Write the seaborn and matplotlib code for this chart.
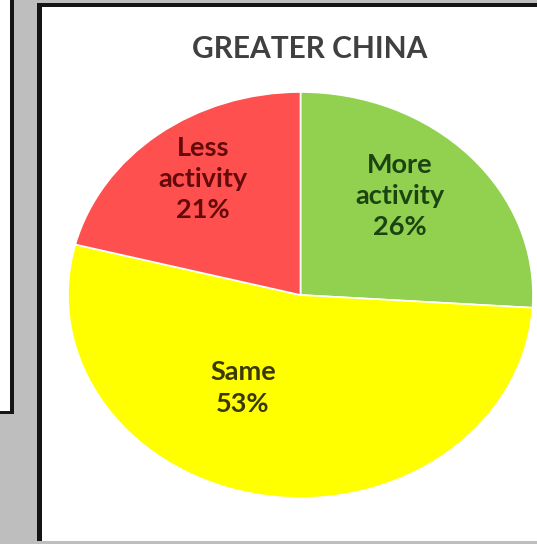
import matplotlib
matplotlib.use("Agg")
import matplotlib.pyplot as plt
from matplotlib.patches import Rectangle
import seaborn as sns

# Survey result for one region
title = "GREATER CHINA"
categories = ["More\nactivity", "Same", "Less\nactivity"]
shares = [26, 53, 21]
slice_colors = ["#92D050", "#FFFF00", "#FF5050"]
label_colors = ["#1B4410", "#3A3A00", "#640A0A"]

sns.set_theme(style="white")
plt.rcParams["font.family"] = ["Lato", "DejaVu Sans"]

W, H = 537, 544
fig = plt.figure(figsize=(W / 100, H / 100), dpi=100)
fig.patch.set_facecolor("#BEBEBE")


def px_rect(x0, y0, x1, y1, **kw):
    """Rectangle given in pixel coordinates measured from the top-left corner."""
    fig.patches.append(Rectangle((x0 / W, 1 - y1 / H), (x1 - x0) / W, (y1 - y0) / H,
                                 transform=fig.transFigure, figure=fig, zorder=-5, **kw))


# neighbouring panel on the left (only its edge is visible)
px_rect(0, 0, 10, 411, facecolor="white", edgecolor="none")
px_rect(10, 0, 14, 414, facecolor="#151515", edgecolor="none")
px_rect(0, 411, 14, 414, facecolor="#151515", edgecolor="none")

# main panel with its top and left border
px_rect(37, 3, W, 541, facecolor="white", edgecolor="none")
px_rect(37, 3, W, 7, facecolor="#151515", edgecolor="none")
px_rect(37, 3, 42, 541, facecolor="#151515", edgecolor="none")

fig.text(310 / W, 1 - 49 / H, title, ha="center", va="center",
         fontsize=21.5, fontweight="bold", color="#404040")

# pie occupies an elliptical area
cx, cy, rx, ry = 300.5, 295, 232.5, 203
ax = fig.add_axes([(cx - rx) / W, 1 - (cy + ry) / H, 2 * rx / W, 2 * ry / H])
ax.set_zorder(5)
wedges, _ = ax.pie(shares, colors=slice_colors, startangle=90, counterclock=False,
                   radius=1, wedgeprops=dict(edgecolor="white", linewidth=1.2))
ax.set_aspect("auto")
ax.set_xlim(-1, 1)
ax.set_ylim(-1, 1)
ax.axis("off")

# label anchor points in pixels
label_pos = [(400, 196), (243, 388), (203, 179)]
for cat, val, col, (lx, ly) in zip(categories, shares, label_colors, label_pos):
    ax.text((lx - cx) / rx, (cy - ly) / ry, f"{cat}\n{val}%", ha="center", va="center",
            fontsize=19.5, fontweight="bold", color=col, linespacing=1.35)

fig.savefig("out.png", dpi=100, facecolor=fig.get_facecolor())
